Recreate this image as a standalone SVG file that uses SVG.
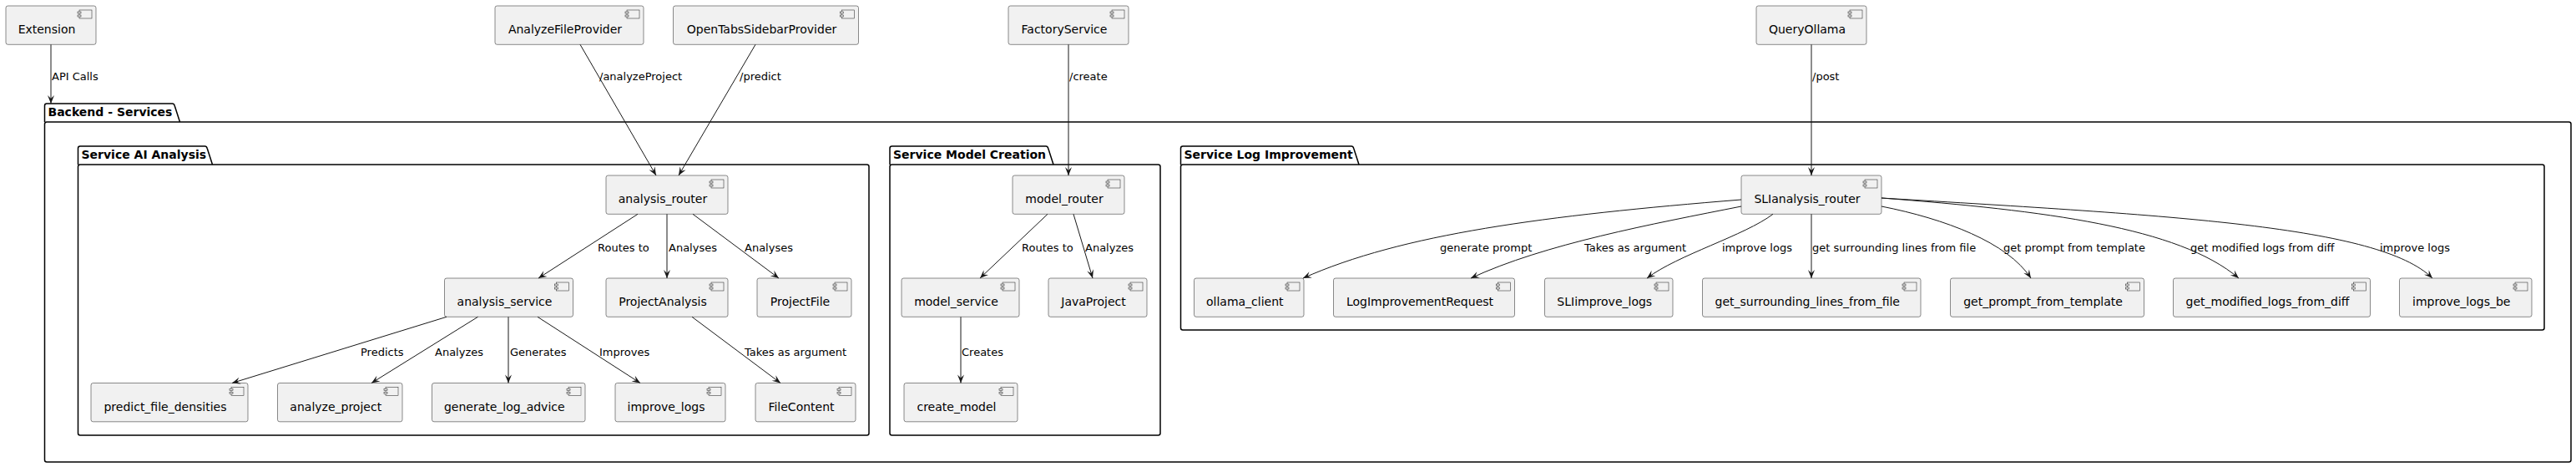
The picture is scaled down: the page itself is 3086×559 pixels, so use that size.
<svg xmlns="http://www.w3.org/2000/svg" width="3086" height="559" viewBox="0 0 3086 559">
<defs>
<style>
.node rect.b{fill:#F1F1F1;stroke:#181818;stroke-width:0.5}
.node rect.i{fill:#F1F1F1;stroke:#181818;stroke-width:0.5}
.node text{font-family:"DejaVu Sans",sans-serif;font-size:14px;fill:#000;text-anchor:middle}
.pkg path,.pkg rect{fill:none;stroke:#000;stroke-width:1.5}
.pkg text{font-family:"DejaVu Sans",sans-serif;font-size:14px;font-weight:bold;fill:#000}
#edges path{fill:none;stroke:#181818;stroke-width:1;marker-end:url(#ah)}
#edges text{font-family:"DejaVu Sans",sans-serif;font-size:13px;fill:#000}
</style>
<marker id="ah" viewBox="-11 -5 12 10" refX="0" refY="0" markerWidth="12" markerHeight="10" markerUnits="userSpaceOnUse" orient="auto">
<path d="M0,0 L-10,-4 L-6,0 L-10,4 Z" fill="#181818"/>
</marker>
<symbol id="ic" overflow="visible">
<rect class="i" x="-20" y="5" width="15" height="10" fill="#F1F1F1" stroke="#181818" stroke-width="0.5"/>
<rect class="i" x="-22" y="7" width="4" height="2" fill="#F1F1F1" stroke="#181818" stroke-width="0.5"/>
<rect class="i" x="-22" y="11" width="4" height="2" fill="#F1F1F1" stroke="#181818" stroke-width="0.5"/>
</symbol>
</defs>
<rect width="3086" height="559" fill="#FFFFFF"/>

<!-- packages -->
<g class="pkg" id="pkg-backend">
<path d="M53.5,146 V126.5 Q53.5,124 56,124 H206.5 Q208.5,124 209.2,126.5 L215.5,146"/>
<rect x="53.5" y="146" width="3026.5" height="407" rx="2.5" ry="2.5"/>
<text x="57.5" y="139">Backend - Services</text>
</g>
<g class="pkg" id="pkg-ai">
<path d="M93.5,197 V177.5 Q93.5,175 96,175 H245.5 Q247.5,175 248.2,177.5 L254.5,197"/>
<rect x="93.5" y="197" width="947.5" height="324" rx="2.5" ry="2.5"/>
<text x="97.5" y="190">Service AI Analysis</text>
</g>
<g class="pkg" id="pkg-model">
<path d="M1066,197 V177.5 Q1066,175 1068.5,175 H1253 Q1255,175 1255.7,177.5 L1262,197"/>
<rect x="1066" y="197" width="324" height="324" rx="2.5" ry="2.5"/>
<text x="1070" y="190">Service Model Creation</text>
</g>
<g class="pkg" id="pkg-log">
<path d="M1414.5,197 V177.5 Q1414.5,175 1417,175 H1619 Q1621,175 1621.7,177.5 L1628,197"/>
<rect x="1414.5" y="197" width="1633.5" height="198" rx="2.5" ry="2.5"/>
<text x="1418.5" y="190">Service Log Improvement</text>
</g>

<!-- nodes -->
<g class="node" id="Extension"><rect class="b" x="7" y="7" width="108" height="46.3" rx="2.5"/><use href="#ic" x="115" y="7"/><text x="56" y="40">Extension</text></g>
<g class="node" id="AnalyzeFileProvider"><rect class="b" x="593" y="7" width="178" height="46.3" rx="2.5"/><use href="#ic" x="771" y="7"/><text x="677" y="40">AnalyzeFileProvider</text></g>
<g class="node" id="OpenTabsSidebarProvider"><rect class="b" x="806.5" y="7" width="222" height="46.3" rx="2.5"/><use href="#ic" x="1028.5" y="7"/><text x="912.5" y="40">OpenTabsSidebarProvider</text></g>
<g class="node" id="FactoryService"><rect class="b" x="1208" y="7" width="144" height="46.3" rx="2.5"/><use href="#ic" x="1352" y="7"/><text x="1275" y="40">FactoryService</text></g>
<g class="node" id="QueryOllama"><rect class="b" x="2104" y="7" width="132" height="46.3" rx="2.5"/><use href="#ic" x="2236" y="7"/><text x="2165" y="40">QueryOllama</text></g>

<g class="node" id="analysis_router"><rect class="b" x="726" y="210" width="146" height="46.3" rx="2.5"/><use href="#ic" x="872" y="210"/><text x="794" y="243">analysis_router</text></g>
<g class="node" id="model_router"><rect class="b" x="1213" y="210" width="134" height="46.3" rx="2.5"/><use href="#ic" x="1347" y="210"/><text x="1275" y="243">model_router</text></g>
<g class="node" id="SLIanalysis_router"><rect class="b" x="2086" y="210" width="168" height="46.3" rx="2.5"/><use href="#ic" x="2254" y="210"/><text x="2165" y="243">SLIanalysis_router</text></g>

<g class="node" id="analysis_service"><rect class="b" x="532.5" y="333" width="154" height="46.3" rx="2.5"/><use href="#ic" x="686.5" y="333"/><text x="604.5" y="366">analysis_service</text></g>
<g class="node" id="ProjectAnalysis"><rect class="b" x="726" y="333" width="146" height="46.3" rx="2.5"/><use href="#ic" x="872" y="333"/><text x="794" y="366">ProjectAnalysis</text></g>
<g class="node" id="ProjectFile"><rect class="b" x="907" y="333" width="113" height="46.3" rx="2.5"/><use href="#ic" x="1020" y="333"/><text x="958.5" y="366">ProjectFile</text></g>
<g class="node" id="model_service"><rect class="b" x="1080" y="333" width="141" height="46.3" rx="2.5"/><use href="#ic" x="1221" y="333"/><text x="1145.5" y="366">model_service</text></g>
<g class="node" id="JavaProject"><rect class="b" x="1256" y="333" width="118" height="46.3" rx="2.5"/><use href="#ic" x="1374" y="333"/><text x="1310" y="366">JavaProject</text></g>
<g class="node" id="ollama_client"><rect class="b" x="1430.5" y="333" width="131.5" height="46.3" rx="2.5"/><use href="#ic" x="1562" y="333"/><text x="1491.25" y="366">ollama_client</text></g>
<g class="node" id="LogImprovementRequest"><rect class="b" x="1597.5" y="333" width="217" height="46.3" rx="2.5"/><use href="#ic" x="1814.5" y="333"/><text x="1701" y="366">LogImprovementRequest</text></g>
<g class="node" id="SLIimprove_logs"><rect class="b" x="1850.5" y="333" width="153.5" height="46.3" rx="2.5"/><use href="#ic" x="2004" y="333"/><text x="1922.25" y="366">SLIimprove_logs</text></g>
<g class="node" id="get_surrounding_lines_from_file"><rect class="b" x="2039.5" y="333" width="261.5" height="46.3" rx="2.5"/><use href="#ic" x="2301" y="333"/><text x="2165.25" y="366">get_surrounding_lines_from_file</text></g>
<g class="node" id="get_prompt_from_template"><rect class="b" x="2336.5" y="333" width="232" height="46.3" rx="2.5"/><use href="#ic" x="2568.5" y="333"/><text x="2447.5" y="366">get_prompt_from_template</text></g>
<g class="node" id="get_modified_logs_from_diff"><rect class="b" x="2603.5" y="333" width="236" height="46.3" rx="2.5"/><use href="#ic" x="2839.5" y="333"/><text x="2716.5" y="366">get_modified_logs_from_diff</text></g>
<g class="node" id="improve_logs_be"><rect class="b" x="2874.5" y="333" width="158.5" height="46.3" rx="2.5"/><use href="#ic" x="3033" y="333"/><text x="2948.75" y="366">improve_logs_be</text></g>

<g class="node" id="predict_file_densities"><rect class="b" x="109" y="458.5" width="188" height="46.3" rx="2.5"/><use href="#ic" x="297" y="458.5"/><text x="198" y="491.5">predict_file_densities</text></g>
<g class="node" id="analyze_project"><rect class="b" x="332.5" y="458.5" width="149.5" height="46.3" rx="2.5"/><use href="#ic" x="482" y="458.5"/><text x="402.25" y="491.5">analyze_project</text></g>
<g class="node" id="generate_log_advice"><rect class="b" x="517.5" y="458.5" width="183.5" height="46.3" rx="2.5"/><use href="#ic" x="701" y="458.5"/><text x="604.25" y="491.5">generate_log_advice</text></g>
<g class="node" id="improve_logs"><rect class="b" x="737" y="458.5" width="132" height="46.3" rx="2.5"/><use href="#ic" x="869" y="458.5"/><text x="798" y="491.5">improve_logs</text></g>
<g class="node" id="FileContent"><rect class="b" x="905" y="458.5" width="120" height="46.3" rx="2.5"/><use href="#ic" x="1025" y="458.5"/><text x="960" y="491.5">FileContent</text></g>
<g class="node" id="create_model"><rect class="b" x="1083" y="458.5" width="136" height="46.3" rx="2.5"/><use href="#ic" x="1219" y="458.5"/><text x="1146" y="491.5">create_model</text></g>

<!-- connectors -->
<g id="edges">
<path d="M61,53.3 L61,124"/><text x="62" y="96">API Calls</text>
<path d="M695,53.3 L786,210"/><text x="718" y="96">/analyzeProject</text>
<path d="M905,53.3 L813,210"/><text x="886" y="96">/predict</text>
<path d="M1280,53.3 L1280,210"/><text x="1281" y="96">/create</text>
<path d="M2170,53.3 L2170,210"/><text x="2171" y="96">/post</text>

<path d="M764,256.3 L645,333"/><text x="716" y="300.5">Routes to</text>
<path d="M799,256.3 L799,333"/><text x="801" y="300.5">Analyses</text>
<path d="M830,256.3 L933,333"/><text x="892" y="300.5">Analyses</text>

<path d="M535,379.3 L278,458.5"/><text x="432" y="425.5">Predicts</text>
<path d="M572.5,379.3 L445,458.5"/><text x="521" y="425.5">Analyzes</text>
<path d="M609,379.3 L609,458.5"/><text x="611" y="425.5">Generates</text>
<path d="M644,379.3 L767,458.5"/><text x="718" y="425.5">Improves</text>
<path d="M829,379.3 L935,458.5"/><text x="892" y="425.5">Takes as argument</text>

<path d="M1255,256.3 L1174,333"/><text x="1224" y="300.5">Routes to</text>
<path d="M1286,256.3 L1309,333"/><text x="1300" y="300.5">Analyzes</text>
<path d="M1151,379.3 L1151,458.5"/><text x="1152" y="425.5">Creates</text>

<path d="M2086,239 C1850,258 1680,280 1561,333"/><text x="1725" y="300.5">generate prompt</text>
<path d="M2086,247 C1980,268 1850,292 1762,333"/><text x="1898" y="300.5">Takes as argument</text>
<path d="M2124,256.3 C2090,282 2010,305 1973,333"/><text x="2063" y="300.5">improve logs</text>
<path d="M2170,256.3 L2170,333"/><text x="2171" y="300.5">get surrounding lines from file</text>
<path d="M2254,247 C2330,262 2405,290 2433,333"/><text x="2400" y="300.5">get prompt from template</text>
<path d="M2254,237 C2450,252 2610,272 2682,333"/><text x="2624" y="300.5">get modified logs from diff</text>
<path d="M2254,237 C2600,258 2850,270 2914,333"/><text x="2851" y="300.5">improve logs</text>
</g>
</svg>
